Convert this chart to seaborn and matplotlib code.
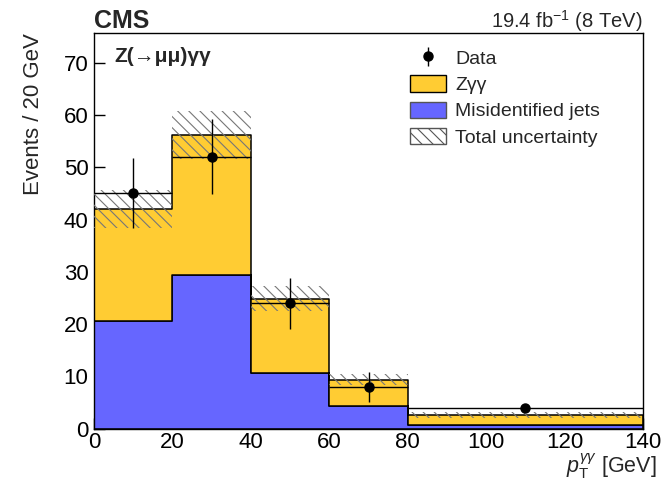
import numpy as np
import pandas as pd
import matplotlib
matplotlib.use("Agg")
import matplotlib.pyplot as plt
import seaborn as sns
from matplotlib.patches import Patch

# ---- data ----
bin_edges = [0, 20, 40, 60, 80, 140]
bin_centers = [10, 30, 50, 70, 110]
zgg = [21.3, 26.8, 14.2, 5.1, 1.9]
misid = [20.7, 29.4, 10.7, 4.3, 0.7]
unc_low = [38.4, 51.6, 22.5, 8.4, 2.0]
unc_high = [45.6, 60.8, 27.3, 10.45, 3.2]
data = [45, 52, 24, 8, 4]
data_err = [6.7, 7.2, 4.9, 2.8, 0.8]
x_ticks = [0, 20, 40, 60, 80, 100, 120, 140]
y_ticks = [0, 10, 20, 30, 40, 50, 60, 70]

YELLOW = "#FFCC33"
BLUE = "#6666FF"

sns.set_style("ticks")
plt.rcParams["font.family"] = ["Liberation Sans", "DejaVu Sans"]
plt.rcParams["mathtext.fontset"] = "custom"
plt.rcParams["mathtext.rm"] = "Liberation Sans"
plt.rcParams["mathtext.it"] = "Liberation Sans:italic"
plt.rcParams["mathtext.bf"] = "Liberation Sans:bold"
plt.rcParams["hatch.color"] = "#777777"
plt.rcParams["hatch.linewidth"] = 0.8

W, H = 666, 482
fig = plt.figure(figsize=(W / 100, H / 100), dpi=100)
x0, x1, ytop, ybot = 94, 643, 33.4, 428.8
ax = fig.add_axes([x0 / W, (H - ybot) / H, (x1 - x0) / W, (ybot - ytop) / H])

procs = ["Z\u03b3\u03b3", "Misidentified jets"]
df = pd.DataFrame({
    "x": bin_centers + bin_centers,
    "w": zgg + misid,
    "proc": [procs[0]] * len(zgg) + [procs[1]] * len(misid),
})
sns.histplot(data=df, x="x", weights="w", hue="proc", hue_order=procs,
             bins=bin_edges, multiple="stack", element="step",
             palette={procs[0]: YELLOW, procs[1]: BLUE}, alpha=1,
             edgecolor="black", linewidth=1.1, legend=False, ax=ax)

ax.stairs(unc_high, bin_edges, baseline=unc_low, fill=True,
          facecolor="none", edgecolor="#777777", hatch="\\\\\\",
          linewidth=0, zorder=3)

xerr = np.diff(bin_edges) / 2
ax.errorbar(bin_centers, data, yerr=data_err, xerr=xerr, fmt="o",
            color="black", ms=6.5, lw=1, capsize=0, zorder=5)

ax.set_xlim(0, 140)
ax.set_ylim(0, 75.6)
ax.set_xticks(x_ticks)
ax.set_yticks(y_ticks)
ax.tick_params(direction="in", length=8, width=1, labelsize=16,
               top=False, right=False, colors="black")
ax.tick_params(axis="y", pad=4)
ax.tick_params(axis="x", pad=2)
for s in ax.spines.values():
    s.set_visible(True)
    s.set_color("black")
    s.set_linewidth(1)

ax.set_xlabel(r"$p_{\mathrm{T}}^{\gamma\gamma}$ [GeV]", loc="right",
              fontsize=15.5)
ax.xaxis.label.set_va("bottom")
ax.xaxis.set_label_coords((657 - x0) / (x1 - x0), (ybot - 481) / (ybot - ytop))
ax.set_ylabel("Events / 20 GeV", loc="top", fontsize=16, labelpad=14)

ax.text(0, 1.013, "CMS", transform=ax.transAxes, fontsize=18,
        fontweight="bold", va="baseline", ha="left")
ax.text(1, 1.013, r"19.4 fb$^{-1}$ (8 TeV)", transform=ax.transAxes,
        fontsize=14.5, va="baseline", ha="right")
ax.text(0.0364, 0.928, "Z(\u2192\u03bc\u03bc)\u03b3\u03b3", transform=ax.transAxes,
        fontsize=15, fontweight="bold", va="baseline", ha="left")

h_data = ax.errorbar([np.nan], [np.nan], yerr=[1.0], fmt="o", color="black",
                     ms=6.5, lw=1, capsize=0)
handles = [
    h_data,
    Patch(facecolor=YELLOW, edgecolor="black", linewidth=1),
    Patch(facecolor=BLUE, edgecolor="#555555", linewidth=1),
    Patch(facecolor="white", edgecolor="#555555", hatch="\\\\\\", linewidth=1),
]
labels = ["Data", "Z\u03b3\u03b3", "Misidentified jets", "Total uncertainty"]
ax.legend(handles, labels, loc="upper left",
          bbox_to_anchor=(410 / W, 1 - 49 / H), bbox_transform=fig.transFigure,
          frameon=False, fontsize=14, handlelength=1.85, handleheight=0.92,
          handletextpad=0.46, labelspacing=0.38, borderpad=0, borderaxespad=0)

fig.savefig("out.png", dpi=100)
